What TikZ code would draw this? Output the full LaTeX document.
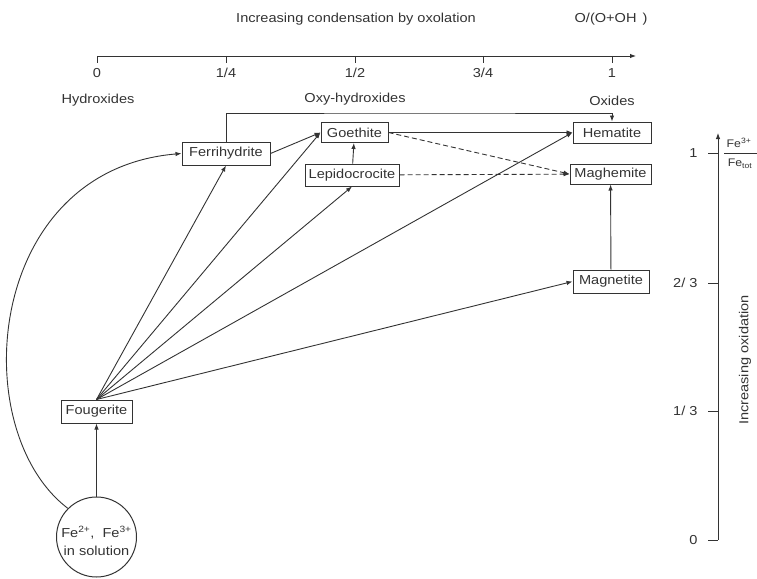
\documentclass[tikz,border=0pt]{standalone}
\usepackage{fontspec}
\setmainfont{Liberation Sans}[FakeStretch=1.12]
\usetikzlibrary{arrows.meta,calc}
\definecolor{ink}{HTML}{333333}
\begin{document}
\begin{tikzpicture}[x=1pt,y=-1pt,
  every node/.style={text=ink, font=\fontsize{13}{15}\selectfont},
  box/.style={draw=ink, line width=1pt, inner sep=0pt, minimum height=22pt},
  arr/.style={draw=ink, line width=0.9pt, -{Latex[length=6pt,width=4.5pt]}},
  dsh/.style={arr, dash pattern=on 5pt off 3pt},
  axisline/.style={draw=ink, line width=0.9pt},
  small/.style={font=\fontsize{11}{13}\selectfont}]
\useasboundingbox (0,0) rectangle (757,578);

% top axis
\node (title) at (356,19) {Increasing condensation by oxolation};
\node (ratio) at (611,19) {O/(O+OH\hspace{6pt})};
\draw[axisline, -{Latex[length=6pt,width=4.5pt]}] (97,56) -- (636,56);
\foreach \x/\l/\n in {97/0/a,226/{1/4}/b,355/{1/2}/c,483/{3/4}/d,612/1/e} {
  \draw[axisline] (\x,56) -- (\x,63);
  \node (tick\n) at (\x,73) {\l};
}
\node (hyd) at (98,100) {Hydroxides};
\node (oxyh) at (355,99) {Oxy-hydroxides};
\node (oxd) at (612,101) {Oxides};

% right axis
\draw[axisline, -{Latex[length=6pt,width=4.5pt]}] (718,540) -- (718,133);
\foreach \y/\l/\n in {153/1/a,283/{2/ 3}/b,411/{1/ 3}/c,540/0/d} {
  \draw[axisline] (708,\y) -- (718,\y);
  \node[anchor=east] (rt\n) at (701,\y) {\l};
}
\node[small] (fe3) at (739,143) {Fe\textsuperscript{3+}};
\node[small] (fetot) at (740,164) {Fe\textsubscript{tot}};
\draw[draw=ink, line width=0.7pt] (724,153) -- (757,153);
\node[rotate=90] (incox) at (745,360) {Increasing oxidation};

% boxes
\node[box, minimum width=88pt, minimum height=23pt] (ferri) at (226,153.5) {Ferrihydrite};
\node[box, minimum width=67pt, minimum height=20pt] (goe) at (354.5,132.5) {Goethite};
\node[box, minimum width=78pt, minimum height=21pt] (hem) at (612,132.5) {Hematite};
\node[box, minimum width=94pt] (lep) at (352,175) {Lepidocrocite};
\node[box, minimum width=81pt, minimum height=20pt] (mag) at (610.5,174) {Maghemite};
\node[box, minimum width=76pt, minimum height=23pt] (mgt) at (611,281.5) {Magnetite};
\node[box, minimum width=71pt, minimum height=23pt] (fou) at (96.5,411.5) {Fougerite};
\node[draw=ink, circle, line width=1pt, minimum size=80pt, inner sep=0pt] (sol) at (96.5,537) {};
\node[align=center, inner sep=0pt] (soltxt) at (96.5,541)
  {Fe\textsuperscript{2+},\ \ Fe\textsuperscript{3+}\\[3pt]in solution};

% connectors
\draw[arr] (sol.north) -- (fou.south);
\draw[arr] (sol.135) .. controls (-35,430) and (-15,170) .. (ferri.west);
\draw[arr] (fou.north) -- (ferri.south);
\draw[arr] (fou.north) -- (goe.west);
\draw[arr] (fou.north) -- (lep.south);
\draw[arr] (fou.north) -- (hem.west);
\draw[arr] (fou.north) -- (mgt.west);
\draw[arr] (ferri.east) -- (goe.west);
\draw[arr] (lep) -- (goe);
\draw[arr] (goe) -- (hem);
\draw[dsh] (goe.east) -- (mag.west);
\draw[dsh] (lep) -- (mag);
\draw[arr] (mgt) -- (mag);
\coordinate (br) at (420,113);
\draw[arr] (ferri.north) |- (br) -| (hem.north);
\end{tikzpicture}
\end{document}
